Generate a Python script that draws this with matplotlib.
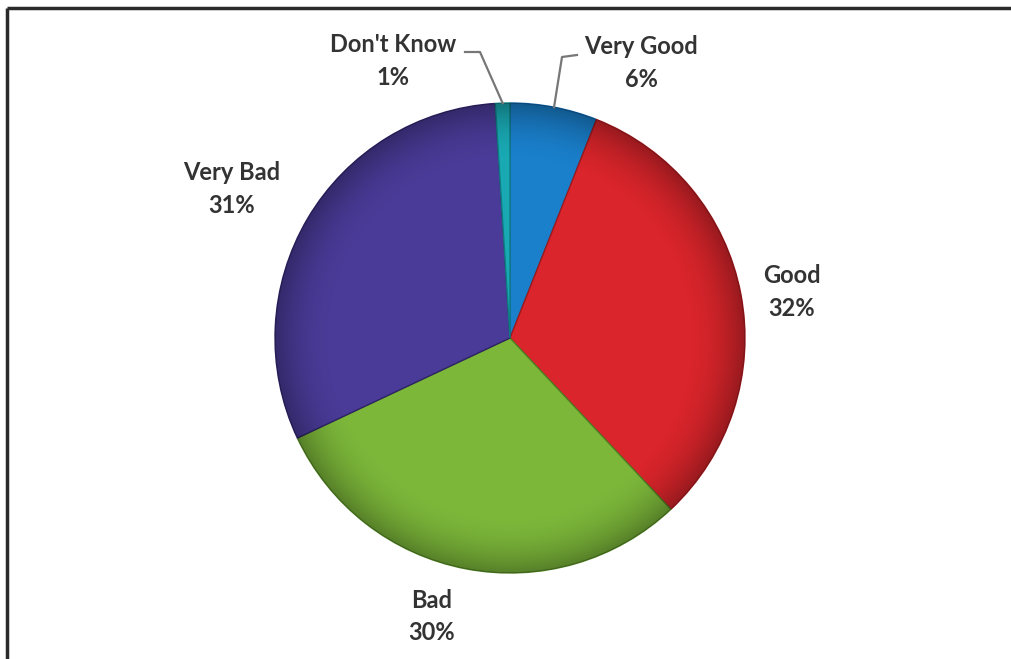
import numpy as np
import matplotlib
matplotlib.use("Agg")
import matplotlib.pyplot as plt
from matplotlib.patches import Circle

# data
labels = ["Very Good", "Good", "Bad", "Very Bad", "Don't Know"]
values = [6, 32, 30, 31, 1]
colors = ["#1a80cc", "#d9252b", "#7cb73a", "#4a3b98", "#19a9b3"]
edge_colors = ["#0d5a9a", "#9e1a1f", "#4f7f22", "#2e2466", "#0f7c83"]

W, H = 1012, 659
cx, cy, r = 510, H - 338, 235

fig = plt.figure(figsize=(W / 100, H / 100), dpi=100)
ax = fig.add_axes([0, 0, 1, 1])
ax.set_xlim(0, W)
ax.set_ylim(0, H)
ax.set_aspect("equal")
ax.axis("off")

wedges, _ = ax.pie(values, colors=colors, startangle=90, counterclock=False,
                   center=(cx, cy), radius=r, frame=True,
                   wedgeprops=dict(linewidth=1.0))
for w, ec in zip(wedges, edge_colors):
    w.set_edgecolor(ec)

# soft shading towards the rim for a 3d-ish look
yy, xx = np.mgrid[-1:1:400j, -1:1:400j]
rr = np.sqrt(xx ** 2 + yy ** 2)
shade = np.zeros((400, 400, 4))
shade[..., 3] = np.clip((rr - 0.75) / 0.25, 0, 1) ** 2 * 0.30
img = ax.imshow(shade, extent=(cx - r, cx + r, cy - r, cy + r), zorder=3)
img.set_clip_path(Circle((cx, cy), r, transform=ax.transData))
ax.set_xlim(0, W)
ax.set_ylim(0, H)

# label positions (pixel coords from top)
label_pos = {
    "Very Good": (641, 46),
    "Good": (792, 275),
    "Bad": (432, 600),
    "Very Bad": (232, 172),
    "Don't Know": (393, 44),
}
total = sum(values)
start = 90.0
for lab, v in zip(labels, values):
    ang = start - 360.0 * v / total / 2
    start -= 360.0 * v / total
    lx, ly = label_pos[lab]
    ax.text(lx, H - ly, lab, ha="center", va="center", fontsize=17,
            fontweight="bold", color="#333333", family="Lato")
    ax.text(lx, H - ly - 33, f"{v}%", ha="center", va="center", fontsize=17,
            fontweight="bold", color="#333333", family="Lato")
    # leader lines for the two small slices
    if lab in ("Very Good", "Don't Know"):
        px = cx + r * np.cos(np.radians(ang))
        py = cy + r * np.sin(np.radians(ang))
        if lab == "Very Good":
            elbow, end = (562, 57), (577, 55)
        else:
            elbow, end = (480, 52), (465, 52)
        ax.plot([px, elbow[0], end[0]], [py, H - elbow[1], H - end[1]],
                color="#777777", lw=1.6, zorder=4)

# frame (only top and left edges are visible in the crop)
ax.plot([7.5, W], [H - 7.5, H - 7.5], color="#2a2a2a", lw=2.5, solid_capstyle="butt")
ax.plot([7.5, 7.5], [H - 7.5, 0], color="#2a2a2a", lw=2.5, solid_capstyle="butt")

fig.savefig("out.png", dpi=100, facecolor="white")
